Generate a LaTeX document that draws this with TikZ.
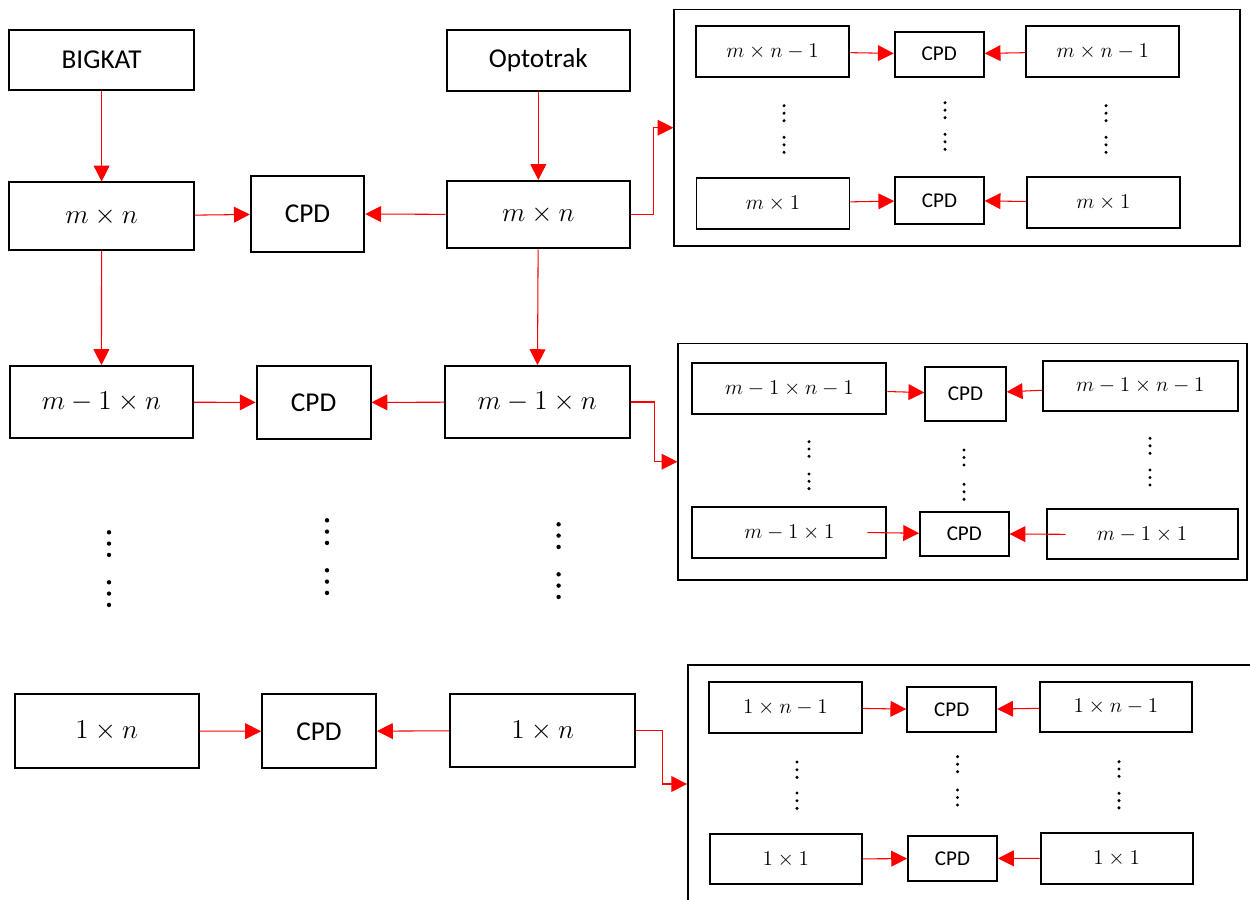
\documentclass[tikz,border=0pt]{standalone}
\usepackage{fix-cm}
\usepackage{fontspec}
\setmainfont{Carlito}
\usetikzlibrary{arrows.meta}

\tikzset{
	bx/.style 2 args={draw, line width=1.1pt, minimum width=#1cm, minimum height=#2cm, inner sep=0pt},
	big/.style={font=\fontsize{15.5}{18}\selectfont},
	small/.style={font=\fontsize{12}{14}\selectfont},
	arr/.style={draw=red, line width=0.6pt, -{Triangle[length=9pt,width=9pt]}},
}

\begin{document}
\begin{tikzpicture}[x=0.02cm, y=-0.02cm]
		\useasboundingbox (0,0) rectangle (1250,899);
		% left part
		\node[bx={3.69}{1.2}, big] (B) at (101.6,60) {BIGKAT};
		\node[bx={3.67}{1.21}, big] (O) at (538.3,60.3) {Optotrak};
		\node[bx={3.69}{1.35}, big] (L1) at (101.6,216.2) {$m\times n$};
		\node[bx={2.27}{1.51}, big] (C1) at (307.5,213.8) {CPD};
		\node[bx={3.67}{1.35}, big] (R1) at (538.3,214.7) {$m\times n$};
		\node[bx={3.66}{1.44}, big] (L2) at (101.4,402) {$m-1\times n$};
		\node[bx={2.28}{1.46}, big] (C2) at (313.6,402.5) {CPD};
		\node[bx={3.69}{1.44}, big] (R2) at (537.3,402) {$m-1\times n$};
		\node[bx={3.68}{1.47}, big] (L3) at (106.7,731) {$1\times n$};
		\node[bx={2.28}{1.48}, big] (C3) at (319,731.3) {CPD};
		\node[bx={3.71}{1.45}, big] (R3) at (542.7,730.5) {$1\times n$};
		\draw[arr] (B) -- (L1);
		\draw[arr] (O) -- (R1);
		\draw[arr] (L1) -- (L2);
		\draw[arr] (R1) -- (R2);
		\draw[arr] (L1) -- (C1);
		\draw[arr] (R1) -- (C1);
		\draw[arr] (L2) -- (C2);
		\draw[arr] (R2) -- (C2);
		\draw[arr] (L3) -- (C3);
		\draw[arr] (R3) -- (C3);
		% frames
		\node[bx={11.31}{4.73}] (F1) at (957,127.7) {};
		\node[bx={11.37}{4.73}] (F2) at (962.5,461.7) {};
		\node[bx={11.48}{4.76}] (F3) at (975,784) {};
		\draw[arr] (R1.east) -- ++(22.6,0) |- (F1.west);
		\draw[arr] (R2.east) -- ++(24.4,0) |- (F2.west);
		\draw[arr] (R3.east) -- ++(26.3,0) |- (F3.west);
		% frame 1
		\node[bx={3.07}{1.01}, small] (F1a) at (772.6,51.3) {$m\times n-1$};
		\node[bx={1.78}{0.9}, small] (F1c) at (939.2,54.2) {CPD};
		\node[bx={3.06}{1.01}, small] (F1b) at (1102.8,51.3) {$m\times n-1$};
		\node[bx={3.06}{1.02}, small] (F1d) at (773,203.2) {$m\times 1$};
		\node[bx={1.77}{0.95}, small] (F1e) at (939.4,200.3) {CPD};
		\node[bx={3.06}{1.03}, small] (F1f) at (1103.4,202.5) {$m\times 1$};
		% frame 2
		\node[bx={3.88}{1.02}, small] (F2a) at (789.4,388.8) {$m-1\times n-1$};
		\node[bx={1.61}{1.08}, small] (F2c) at (965.5,393.7) {CPD};
		\node[bx={3.89}{1.01}, small] (F2b) at (1140.3,385.8) {$m-1\times n-1$};
		\node[bx={3.88}{1.02}, small] (F2d) at (789.4,532.8) {$m-1\times 1$};
		\node[bx={1.77}{0.89}, small] (F2e) at (964.3,533.8) {CPD};
		\node[bx={3.82}{1.01}, small] (F2f) at (1142.1,534.2) {$m-1\times 1$};
		% frame 3
		\node[bx={3.06}{1.02}, small] (F3a) at (785.4,707.2) {$1\times n-1$};
		\node[bx={1.78}{0.9}, small] (F3c) at (951.7,709.8) {CPD};
		\node[bx={3.04}{1.01}, small] (F3b) at (1115.9,707) {$1\times n-1$};
		\node[bx={3.04}{1.01}, small] (F3d) at (785.8,859.2) {$1\times 1$};
		\node[bx={1.78}{0.89}, small] (F3e) at (952.5,858.4) {CPD};
		\node[bx={3.04}{1.02}, small] (F3f) at (1116.6,858.2) {$1\times 1$};
		\foreach \f in {F1,F2,F3}{
			\draw[arr] (\f a) -- (\f c);
			\draw[arr] (\f b) -- (\f c);
		}
		\draw[arr] (F1d) -- (F1e);
		\draw[arr] (F1f) -- (F1e);
		\draw[arr, shorten <=-0.4cm] (F2d.east) -- (F2e);
		\draw[arr, shorten <=-0.4cm] (F2f.west) -- (F2e);
		\draw[arr] (F3d) -- (F3e);
		\draw[arr] (F3f) -- (F3e);
		% dots
		\foreach \x/\y in {109/532.3, 327/520.3, 558.6/524.3}
			\foreach \k in {0,1,2}{
				\fill (\x,\y+11.3*\k) circle (0.044cm);
				\fill (\x,\y+50+11.3*\k) circle (0.044cm);
			}
		\foreach \x/\y/\d/\g in {784/105.7/7.5/31.6, 945/102.7/7.5/31.6, 1106/105.7/7.5/31.6,
				809/441.7/7.3/32.3, 964/450/7.5/34.3, 1150/438.3/7.5/31.7,
				797/762/7.7/31, 957.5/756.7/7.5/33.3, 1119/761.7/7.3/31.6}
			\foreach \k in {0,1,2}{
				\fill (\x,\y+\d*\k) circle (0.034cm);
				\fill (\x,\y+\g+\d*\k) circle (0.034cm);
			}
	\end{tikzpicture}
\end{document}
